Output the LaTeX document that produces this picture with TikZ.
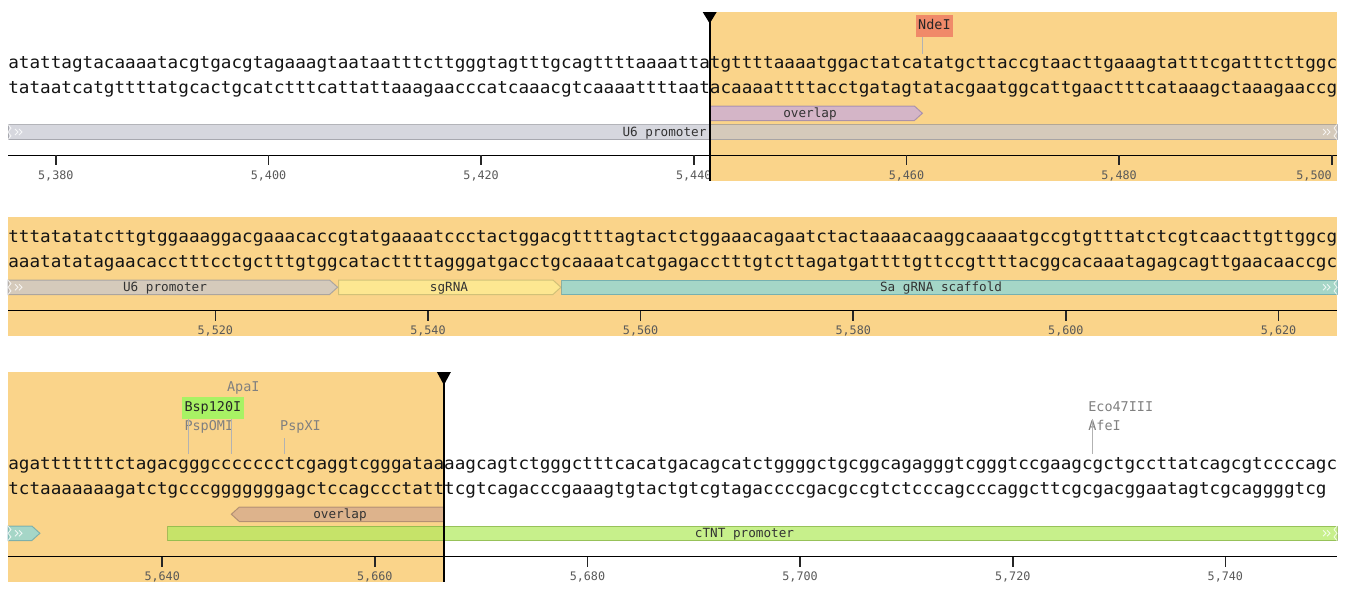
\documentclass[tikz,border=0pt]{standalone}
\usepackage{fontspec}
\newfontfamily\seqfont[FakeStretch=1.0348]{DejaVu Sans Mono}
\newfontfamily\monofont{DejaVu Sans Mono}
\definecolor{hlc}{RGB}{250,212,138}
\definecolor{u6c}{RGB}{198,199,208}
\definecolor{ovpc}{RGB}{196,169,226}
\definecolor{sgc}{RGB}{255,240,148}
\definecolor{scc}{RGB}{129,215,226}
\definecolor{ctc}{RGB}{176,234,91}
\definecolor{ovtc}{RGB}{210,166,141}
\definecolor{ndec}{RGB}{240,138,105}
\definecolor{bspc}{RGB}{168,242,100}
\tikzset{
  seq/.style={anchor=base west, inner sep=0pt, font=\seqfont\fontsize{12.8pt}{13pt}\selectfont, text=black!92},
  tkl/.style={anchor=base, inner sep=0pt, font=\monofont\fontsize{8.8pt}{9pt}\selectfont, text=black!65},
  flbl/.style={anchor=base, inner sep=0pt, font=\monofont\fontsize{9.5pt}{10pt}\selectfont, text=black!80},
  enz/.style={anchor=north west, font=\monofont\fontsize{10.1pt}{11pt}\selectfont, text=black!50,
              inner xsep=1.9pt, inner ysep=3.3pt, text height=7.4pt, text depth=2.2pt},
  enzbox/.style={enz, text=black!85},
  cut/.style={draw=black!30, line width=1pt},
  feat/.style={fill opacity=0.7, draw opacity=0.7, line width=0.75pt},
  contm/.style={draw=white, draw opacity=0.8, line width=0.6pt},
  axisl/.style={line width=0.75pt, black},
  tickl/.style={line width=1.2pt, black!85},
  cursor/.style={line width=1.5pt, black},
}
\newcommand\contleft[3]{%
  \draw[contm] (#1,#2) -- ({#1+3},{#2+3.6}) -- (#1,{(#2+#3)/2}) -- ({#1+3},{#3-3.6}) -- (#1,#3);
  \draw[contm] ({#1+7},{(#2+#3)/2-3}) -- ({#1+10},{(#2+#3)/2}) -- ({#1+7},{(#2+#3)/2+3});
  \draw[contm] ({#1+11},{(#2+#3)/2-3}) -- ({#1+14},{(#2+#3)/2}) -- ({#1+11},{(#2+#3)/2+3});
}
\newcommand\contright[3]{%
  \draw[contm] (#1,#2) -- ({#1-3},{#2+3.6}) -- (#1,{(#2+#3)/2}) -- ({#1-3},{#3-3.6}) -- (#1,#3);
  \draw[contm] ({#1-14},{(#2+#3)/2-3}) -- ({#1-11},{(#2+#3)/2}) -- ({#1-14},{(#2+#3)/2+3});
  \draw[contm] ({#1-10},{(#2+#3)/2-3}) -- ({#1-7},{(#2+#3)/2}) -- ({#1-10},{(#2+#3)/2+3});
}
\begin{document}
\begin{tikzpicture}[x=0.75pt,y=-0.75pt]
\useasboundingbox (0,0) rectangle (1352,600);
\fill[white] (0,0) rectangle (1352,600);
% ---------------- highlights
\fill[hlc] (709.7,12) rectangle (1337,181);
\fill[hlc] (8,217) rectangle (1337,336);
\fill[hlc] (8,372) rectangle (443.9,582);

% ---------------- row 1 features
\path[feat,fill=ovpc,draw=ovpc!75!black] (709.7,106) -- (914.4,106) -- (922.4,113.25) -- (914.4,120.5) -- (709.7,120.5) -- cycle;
\path[feat,fill=u6c,draw=u6c!75!black] (8,124.5) rectangle (1337,139.5);
\contleft{8}{124.5}{139.5}
\contright{1337}{124.5}{139.5}
\node[flbl] (fOv1) at (810,117.7) {overlap};
\node[flbl] (fU61) at (664.5,136.5) {U6 promoter};

% ---------------- row 2 features
\path[feat,fill=u6c,draw=u6c!75!black] (8,280) -- (329.6,280) -- (337.6,287.25) -- (329.6,294.5) -- (8,294.5) -- cycle;
\path[feat,fill=sgc,draw=sgc!75!black] (338.6,280) -- (552.9,280) -- (560.9,287.25) -- (552.9,294.5) -- (338.6,294.5) -- cycle;
\path[feat,fill=scc,draw=scc!75!black] (561.9,280) rectangle (1337,294.5);
\contleft{8}{280}{294.5}
\contright{1337}{280}{294.5}
\node[flbl] (fU62) at (165,291.6) {U6 promoter};
\node[flbl] (fSg) at (449,291.6) {sgRNA};
\node[flbl] (fSc) at (941,291.6) {Sa gRNA scaffold};

% ---------------- row 3 features
\path[feat,fill=ovtc,draw=ovtc!75!black] (443.9,507) -- (239.3,507) -- (231.3,514.25) -- (239.3,521.5) -- (443.9,521.5) -- cycle;
\path[feat,fill=scc,draw=scc!75!black] (8,526) -- (31.9,526) -- (39.9,533.25) -- (31.9,540.5) -- (8,540.5) -- cycle;
\path[feat,fill=ctc,draw=ctc!75!black] (167.5,526) rectangle (1337,540.5);
\contleft{8}{526}{540.5}
\contright{1337}{526}{540.5}
\node[flbl] (fOv3) at (340,518.6) {overlap};
\node[flbl] (fCt) at (744.5,537.6) {cTNT promoter};

% ---------------- sequences
\node[seq] (s1t) at (8,68.5) {atattagtacaaaatacgtgacgtagaaagtaataatttcttgggtagtttgcagttttaaaattatgttttaaaatggactatcatatgcttaccgtaacttgaaagtatttcgatttcttggc};
\node[seq] (s1b) at (8,93.5) {tataatcatgttttatgcactgcatctttcattattaaagaacccatcaaacgtcaaaattttaatacaaaattttacctgatagtatacgaatggcattgaactttcataaagctaaagaaccg};
\node[seq] (s2t) at (8,242.5) {tttatatatcttgtggaaaggacgaaacaccgtatgaaaatccctactggacgttttagtactctggaaacagaatctactaaaacaaggcaaaatgccgtgtttatctcgtcaacttgttggcg};
\node[seq] (s2b) at (8,267.5) {aaatatatagaacacctttcctgctttgtggcatacttttagggatgacctgcaaaatcatgagacctttgtcttagatgattttgttccgttttacggcacaaatagagcagttgaacaaccgc};
\node[seq] (s3t) at (8,469.5) {agatttttttctagacgggccccccctcgaggtcgggataaaagcagtctgggctttcacatgacagcatctggggctgcggcagagggtcgggtccgaagcgctgccttatcagcgtccccagc};
\node[seq] (s3b) at (8,494.5) {tctaaaaaaagatctgcccgggggggagctccagccctatttcgtcagacccgaaagtgtactgtcgtagaccccgacgccgtctcccagcccaggcttcgcgacggaatagtcgcaggggtcg};

% ---------------- axes
\draw[axisl] (8,155) -- (1337,155);
\foreach \i/\n in {4/380,24/400,44/420,64/440,84/460,104/480} {
  \pgfmathsetmacro\tx{8+(\i+0.5)*10.632}
  \draw[tickl] (\tx,155) -- (\tx,165);
  \node[tkl] (tkA\i) at (\tx,179.1) {5,\n};
}
\draw[tickl] (1331.7,155) -- (1331.7,165);
\node[tkl, anchor=base east] (tkA124) at (1332,179.1) {5,500};
\draw[axisl] (8,310.5) -- (1337,310.5);
\foreach \i/\n in {19/520,39/540,59/560,79/580,99/600,119/620} {
  \pgfmathsetmacro\tx{8+(\i+0.5)*10.632}
  \draw[tickl] (\tx,310.5) -- (\tx,320.5);
  \node[tkl] (tkB\i) at (\tx,334.6) {5,\n};
}
\draw[axisl] (8,556.5) -- (1337,556.5);
\foreach \i/\n in {14/640,34/660,54/680,74/700,94/720,114/740} {
  \pgfmathsetmacro\tx{8+(\i+0.5)*10.632}
  \draw[tickl] (\tx,556.5) -- (\tx,566.5);
  \node[tkl] (tkC\i) at (\tx,580.6) {5,\n};
}

% ---------------- enzymes
\node[enz] (ApaI) at (224.3,377.2) {ApaI};
\node[enz] (PspOMI) at (181.7,416.2) {PspOMI};
\node[enz] (PspXI) at (277.4,416.2) {PspXI};
\node[enz] (Eco47III) at (1085.5,396.7) {Eco47III};
\node[enz] (AfeI) at (1085.5,416.2) {AfeI};
\coordinate (sApa) at (231.3,454);
\coordinate (sPspO) at (188.7,454);
\coordinate (sPspX) at (284.4,454);
\coordinate (sAfe) at (1092.5,454);
\coordinate (sNde) at (922.4,53.5);
\draw[cut] (ApaI.south -| sApa) -- (sApa);
\draw[cut] (PspXI.south -| sPspX) -- (sPspX);
\draw[cut] (Eco47III.south -| sAfe) -- (sAfe);
\node[enzbox, fill=ndec] (NdeI) at (915.4,15) {NdeI};
\node[enzbox, fill=bspc] (Bsp120I) at (181.7,396.7) {Bsp120I};
\draw[cut] (NdeI.south -| sNde) -- (sNde);
\draw[cut] (Bsp120I.south -| sPspO) -- (sPspO);

% ---------------- cursors
\draw[cursor] (709.7,12) -- (709.7,181);
\fill[black] (702.7,12) -- (716.7,12) -- (709.7,23.5) -- cycle;
\draw[cursor] (443.9,372) -- (443.9,582);
\fill[black] (436.9,372) -- (450.9,372) -- (443.9,385) -- cycle;
\end{tikzpicture}
\end{document}
